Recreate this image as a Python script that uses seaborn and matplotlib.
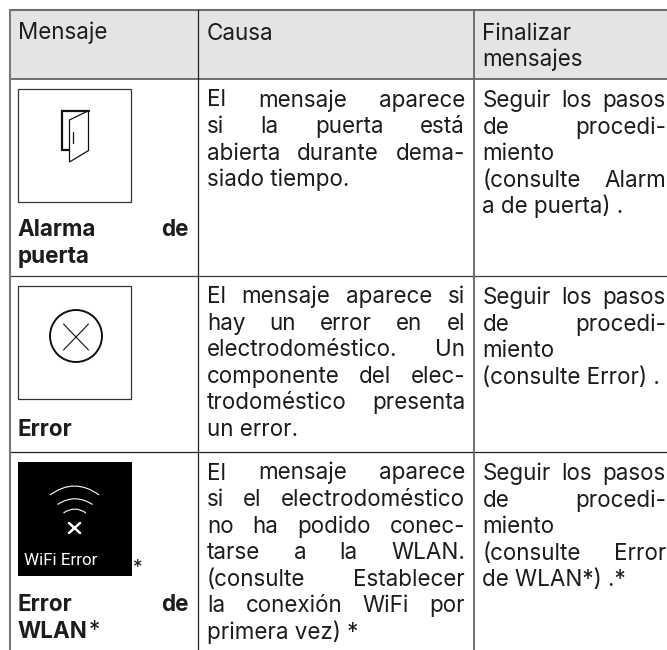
import matplotlib
matplotlib.use("Agg")
import matplotlib.pyplot as plt
from matplotlib.patches import Rectangle, Circle, PathPatch, Polygon
from matplotlib.path import Path
import seaborn as sns

sns.set_theme(style="white")
plt.rcParams['font.family'] = ['Inter', 'DejaVu Sans']

# ---- table content ----
headers = ["Mensaje", "Causa", "Finalizar\nmensajes"]
message_names = [["Alarma de", "puerta"], ["Error"], ["Error de", "WLAN"]]
cause_lines = [
    ["El mensaje aparece", "si la puerta está", "abierta durante dema-", "siado tiempo."],
    ["El mensaje aparece si", "hay un error en el", "electrodoméstico. Un",
     "componente del elec-", "trodoméstico presenta", "un error."],
    ["El mensaje aparece", "si el electrodoméstico", "no ha podido conec-",
     "tarse a la WLAN.", "(consulte Establecer", "la conexión WiFi por", "primera vez) *"],
]
end_lines = [
    ["Seguir los pasos", "de procedi-", "miento", "(consulte Alarm", "a de puerta) ."],
    ["Seguir los pasos", "de procedi-", "miento", "(consulte Error) ."],
    ["Seguir los pasos", "de procedi-", "miento", "(consulte Error", "de WLAN*) .*"],
]
unjustified = {"siado tiempo.", "un error.", "primera vez) *", "miento", "a de puerta) .",
               "(consulte Error) .", "de WLAN*) .*", "puerta", "WLAN", "Error"}

# ---- layout (pixels) ----
W, H = 667, 650
col_edges = [10, 198, 474]
row_edges = [10, 79, 276, 452]
cell_first_baseline = [106.5, 303, 479.5]
name_baselines = [[236.5, 263], [435.5], [611, 637.5]]
end_first_baseline = [107, 304, 480]
PITCH = 26.55
FS = 22.4 * 0.72
INK = "#1c1c1c"
col_text = [(17.5, 189), (207, 465), (482.5, 666)]

fig = plt.figure(figsize=(W / 100, H / 100), dpi=100)
ax = fig.add_axes([0, 0, 1, 1])
ax.set_xlim(0, W)
ax.set_ylim(H, 0)
ax.axis("off")
sns.despine(ax=ax, left=True, bottom=True)
rend = fig.canvas.get_renderer()


def measure(s, **kw):
    t = ax.text(0, 100, s, fontsize=FS, **kw)
    w = t.get_window_extent(rend).width
    t.remove()
    return w


def put(line, x0, x1, y, **kw):
    words = line.split(" ")
    if line in unjustified or len(words) == 1:
        ax.text(x0, y, line, fontsize=FS, color=INK, va="baseline", ha="left", **kw)
        return x0 + measure(line, **kw)
    widths = [measure(w, **kw) for w in words]
    gap = (x1 - x0 - sum(widths)) / (len(words) - 1)
    x = x0
    for w, wd in zip(words, widths):
        ax.text(x, y, w, fontsize=FS, color=INK, va="baseline", ha="left", **kw)
        x += wd + gap
    return x1


# header band and grid
ax.add_patch(Rectangle((col_edges[0], row_edges[0]), W - col_edges[0], row_edges[1] - row_edges[0],
                       fc="#e3e4e6", ec="none", zorder=0))
ax.plot([10, W], [10, 10], color="#6e6e6e", lw=1.5)
ax.plot([10, W], [79, 79], color="#4a4a4a", lw=1.1)
ax.plot([10, W], [276, 276], color="#3a3a3a", lw=0.9)
ax.plot([10, W], [452, 452], color="#222222", lw=0.9)
ax.plot([10, 10], [10, H], color="#7a7a7a", lw=1.5)
ax.plot([198, 198], [10, H], color="#222222", lw=0.9)
ax.plot([474, 474], [10, H], color="#666666", lw=1.3)

# header text
for (x0, _), h in zip(col_text, headers):
    for i, part in enumerate(h.split("\n")):
        ax.text(x0, 39.5 + i * 26.3, part, fontsize=FS, color=INK, va="baseline")

# body text
for r in range(3):
    for line, y in zip(message_names[r], name_baselines[r]):
        end = put(line, *col_text[0], y, fontweight="bold")
        if line == "WLAN":
            ax.text(end + 1, y, "*", fontsize=FS, color=INK, va="baseline")
    for i, line in enumerate(cause_lines[r]):
        put(line, *col_text[1], cell_first_baseline[r] + i * PITCH)
    for i, line in enumerate(end_lines[r]):
        put(line, *col_text[2], end_first_baseline[r] + i * PITCH)

# icon frames
ax.add_patch(Rectangle((18, 88.5), 113, 113, fc="white", ec="#333333", lw=0.9))
ax.add_patch(Rectangle((18, 286), 113, 112.5, fc="white", ec="#333333", lw=0.9))
ax.add_patch(Rectangle((18, 462), 114, 114, fc="black", ec="none"))

# door icon
ax.plot([68.5, 62, 62, 88.5], [150, 150, 110.7, 110.7], color="#111111", lw=1.6, solid_joinstyle="miter")
ax.add_patch(Polygon([(69.5, 120), (88.5, 110.7), (88.5, 150.5), (69.5, 162)], closed=True, fc="none", ec="#111111", lw=0.9))
ax.plot([72.7, 72.7], [132, 143], color="#111111", lw=0.9)

# error icon
ax.add_patch(Circle((76, 336), 26, fc="none", ec="#111111", lw=1.4))
ax.plot([63.5, 88.5], [324, 350], color="#111111", lw=0.8)
ax.plot([88.5, 63.5], [324, 350], color="#111111", lw=0.8)

# wifi icon
for x0, x1, ye, yc in [(50, 99, 495, 477), (57.5, 92.5, 504.5, 493), (63.5, 86, 513, 505)]:
    ax.add_patch(PathPatch(Path([(x0, ye), ((x0 + x1) / 2, yc), (x1, ye)],
                               [Path.MOVETO, Path.CURVE3, Path.CURVE3]),
                           fc="none", ec="white", lw=0.8))
ax.plot([69, 80], [523, 533], color="white", lw=1.8)
ax.plot([80, 69], [523, 533], color="white", lw=1.8)
ax.text(24, 565, "WiFi Error", color="white", fontsize=17 * 0.72, va="baseline", family=["Roboto"])
ax.text(133, 573, "*", color=INK, fontsize=FS * 0.85, va="baseline")

fig.savefig("out.png", dpi=100, facecolor="white")
